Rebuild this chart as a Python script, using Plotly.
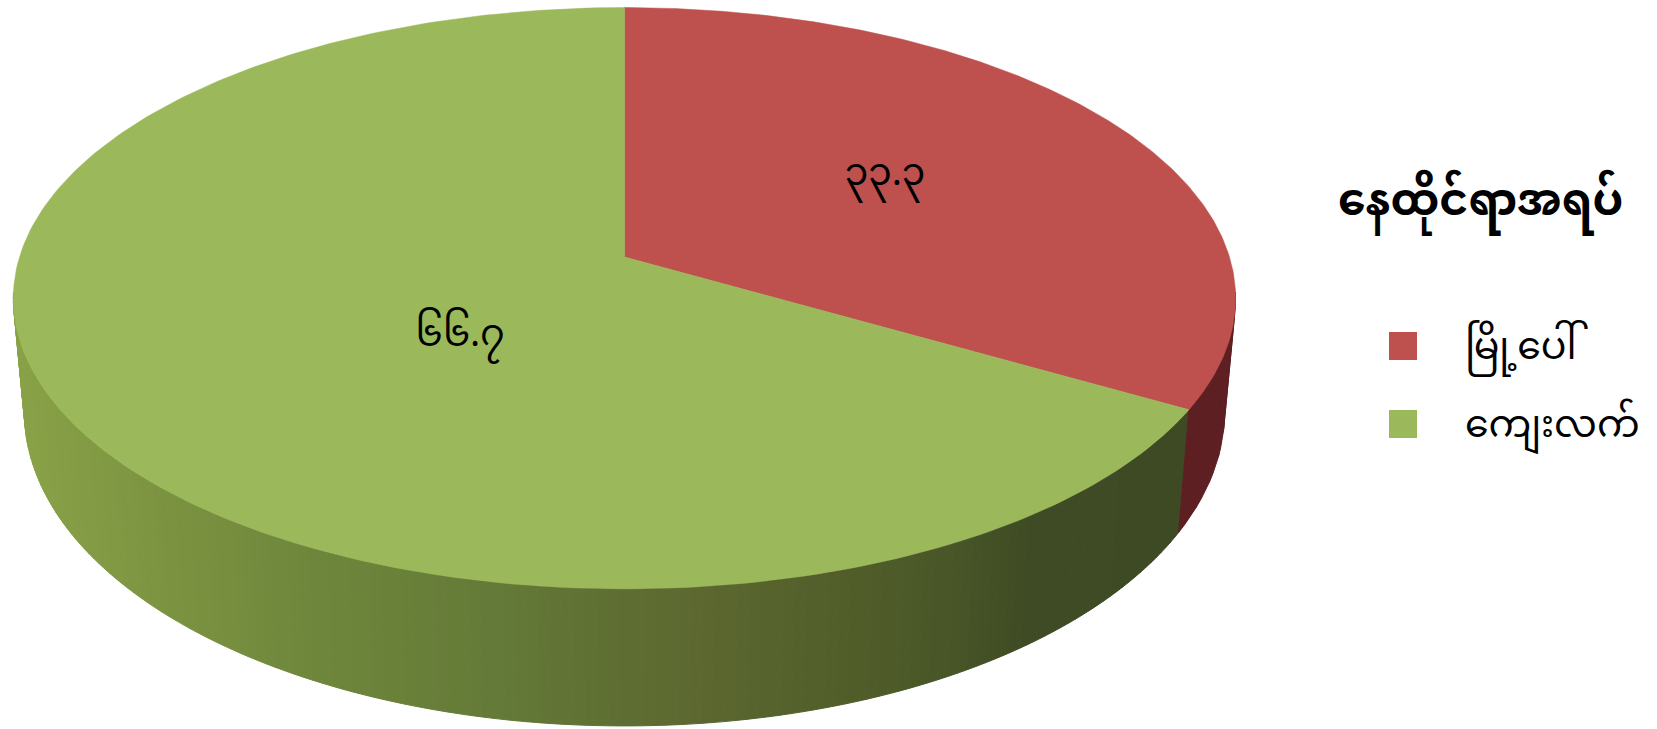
import numpy as np
import plotly.graph_objects as go

# data
categories = ["မြို့ပေါ်", "ကျေးလက်"]
values = [33.3, 66.7]
value_labels = ["၃၃.၃", "၆၆.၇"]
legend_title = "နေထိုင်ရာအရပ်"

# colours
top_colors = ["#BE504E", "#9BB95A"]
red_side = "#5E1F22"
side_x = [20, 150, 300, 500, 700, 850, 950, 1020, 1200]
side_r = [138, 126, 112, 100, 92, 82, 72, 64, 62]
side_g = [163, 150, 136, 122, 104, 94, 86, 76, 74]
side_b = [72, 66, 60, 56, 48, 42, 40, 36, 36]

# perspective projection of the disc into the picture
K = 0.1418
CX = 624.5
TOP = dict(r=605.0, s=284.8, cy=257.0)
BOT = dict(r=594.0, s=307.6, cy=367.5)


def project(theta_deg, p):
    t = np.radians(theta_deg)
    u, v = np.sin(t), -np.cos(t)
    w = 1 - K * v
    return CX + p["r"] * u / w, p["cy"] + p["s"] * v / w


FONT = "Noto Sans Myanmar, Padauk, Myanmar Text, Noto Sans, DejaVu Sans"
total = sum(values)
split = values[0] / total * 360

fig = go.Figure()


def strip(a, b, color):
    th = np.linspace(a, b, 4)
    x1, y1 = project(th, TOP)
    x2, y2 = project(th[::-1], BOT)
    fig.add_trace(go.Scatter(
        x=np.r_[x1, x2, x1[0]], y=np.r_[y1, y2, y1[0]], mode="lines",
        fill="toself", fillcolor=color, line=dict(color=color, width=1),
        hoverinfo="skip", showlegend=False))


# side wall
edges = np.linspace(split, 263, 150)
for a, b in zip(edges[:-1], edges[1:]):
    xm, _ = project((a + b) / 2, BOT)
    c = "rgb(%d,%d,%d)" % (np.interp(xm, side_x, side_r),
                           np.interp(xm, side_x, side_g),
                           np.interp(xm, side_x, side_b))
    strip(a, b, c)
edges = np.linspace(97, split, 6)
for a, b in zip(edges[:-1], edges[1:]):
    strip(a, b, red_side)

# top face
start = 0.0
for name, val, col in zip(categories, values, top_colors):
    end = start + val / total * 360
    th = np.linspace(start, end, 240)
    x, y = project(th, TOP)
    fig.add_trace(go.Scatter(
        x=np.r_[CX, x, CX], y=np.r_[TOP["cy"], y, TOP["cy"]], mode="lines",
        fill="toself", fillcolor=col, line=dict(color=col, width=0.5),
        name=name, showlegend=False, hoverinfo="name"))
    start = end

# value labels
label_xy = [(885, 175), (460, 336)]
fig.add_trace(go.Scatter(
    x=[p[0] for p in label_xy], y=[p[1] for p in label_xy], mode="text",
    text=value_labels, textposition="middle center",
    textfont=dict(family=FONT, size=38, color="black"),
    hoverinfo="skip", showlegend=False))

# legend
fig.add_trace(go.Scatter(
    x=[1403, 1403], y=[346, 424], mode="markers",
    marker=dict(symbol="square", size=28, color=top_colors, line=dict(width=0)),
    hoverinfo="skip", showlegend=False))
fig.add_trace(go.Scatter(
    x=[1465, 1465], y=[349, 427], mode="text", text=categories,
    textposition="middle right",
    textfont=dict(family=FONT, size=38, color="black"),
    hoverinfo="skip", showlegend=False))
fig.add_annotation(x=1336, y=205, xref="x", yref="y", xanchor="left", yanchor="middle",
                   text="<b>%s</b>" % legend_title, showarrow=False,
                   font=dict(family=FONT, size=44, color="black"))

fig.update_xaxes(range=[0, 1657], visible=False, fixedrange=True)
fig.update_yaxes(range=[729, 0], visible=False, fixedrange=True)
fig.update_layout(width=1657, height=729, margin=dict(l=0, r=0, t=0, b=0),
                  paper_bgcolor="white", plot_bgcolor="white", showlegend=False)
fig.write_html("out.html", config={"displayModeBar": False},
               post_script="document.body.style.margin='0';document.body.style.overflow='hidden';")
